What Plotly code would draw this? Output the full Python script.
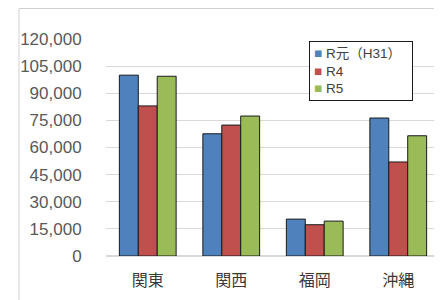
import plotly.graph_objects as go

categories = ["関東", "関西", "福岡", "沖縄"]
series_names = ["R元（H31）", "R4", "R5"]
r1_values = [100000, 67600, 20400, 76300]
r4_values = [83000, 72400, 17300, 52000]
r5_values = [99400, 77400, 19300, 66500]
tick_vals = [0, 15000, 30000, 45000, 60000, 75000, 90000, 105000, 120000]
tick_text = ["0", "15,000", "30,000", "45,000", "60,000", "75,000", "90,000", "105,000", "120,000"]

colors = ["#4F81BD", "#C0504D", "#9BBB59"]
font_family = "Liberation Sans, Noto Sans CJK JP, sans-serif"

# page body has an 8px margin: figure sized to fit the 442x300 window
W, H = 434, 292
L, R, T, B = 98, 2, 31, 44
pw, ph = W - L - R, H - T - B

fig = go.Figure()
for name, vals, col in zip(series_names, [r1_values, r4_values, r5_values], colors):
    fig.add_trace(go.Bar(
        x=categories, y=vals, name=name, showlegend=False,
        marker=dict(color=col, line=dict(color="#1a1a1a", width=1)),
    ))

legend_text = "<br>".join(
    f"<span style='color:{c}'>■</span> {n}" + ("&nbsp;&nbsp;" if i == 0 else "")
    for i, (n, c) in enumerate(zip(series_names, colors))
)

fig.update_layout(
    width=W, height=H,
    margin=dict(l=L, r=R, t=T, b=B),
    paper_bgcolor="white", plot_bgcolor="white",
    barmode="group", bargap=0.32, bargroupgap=0.0,
    font=dict(family=font_family, color="#595959"),
    xaxis=dict(
        showgrid=False, showline=False, zeroline=False,
        tickfont=dict(size=16, color="#3a3a3a"),
        ticks="outside", ticklen=10, tickcolor="rgba(0,0,0,0)",
    ),
    yaxis=dict(
        range=[0, 120000], tickvals=tick_vals, ticktext=tick_text,
        showgrid=True, gridcolor="#D9D9D9", gridwidth=1,
        zeroline=True, zerolinecolor="#D9D9D9", showline=False,
        tickfont=dict(size=17, color="#595959"),
        ticks="outside", ticklen=20, tickcolor="rgba(0,0,0,0)",
    ),
    annotations=[dict(
        xref="paper", yref="paper",
        x=(301 - L) / pw, y=(ph + T - 33) / ph, xanchor="left", yanchor="top",
        text=legend_text, showarrow=False, align="left",
        font=dict(size=13.5, color="#404040"),
        bgcolor="white", bordercolor="#1a1a1a", borderwidth=1, borderpad=4,
    )],
    shapes=[dict(
        type="rect", xref="paper", yref="paper",
        x0=(11 - L) / pw, x1=1.1, y0=-0.5, y1=(ph + T - 0.5) / ph,
        line=dict(color="#D0D0D0", width=1), fillcolor="rgba(0,0,0,0)", layer="below",
    )],
)

fig.write_html("out.html")
